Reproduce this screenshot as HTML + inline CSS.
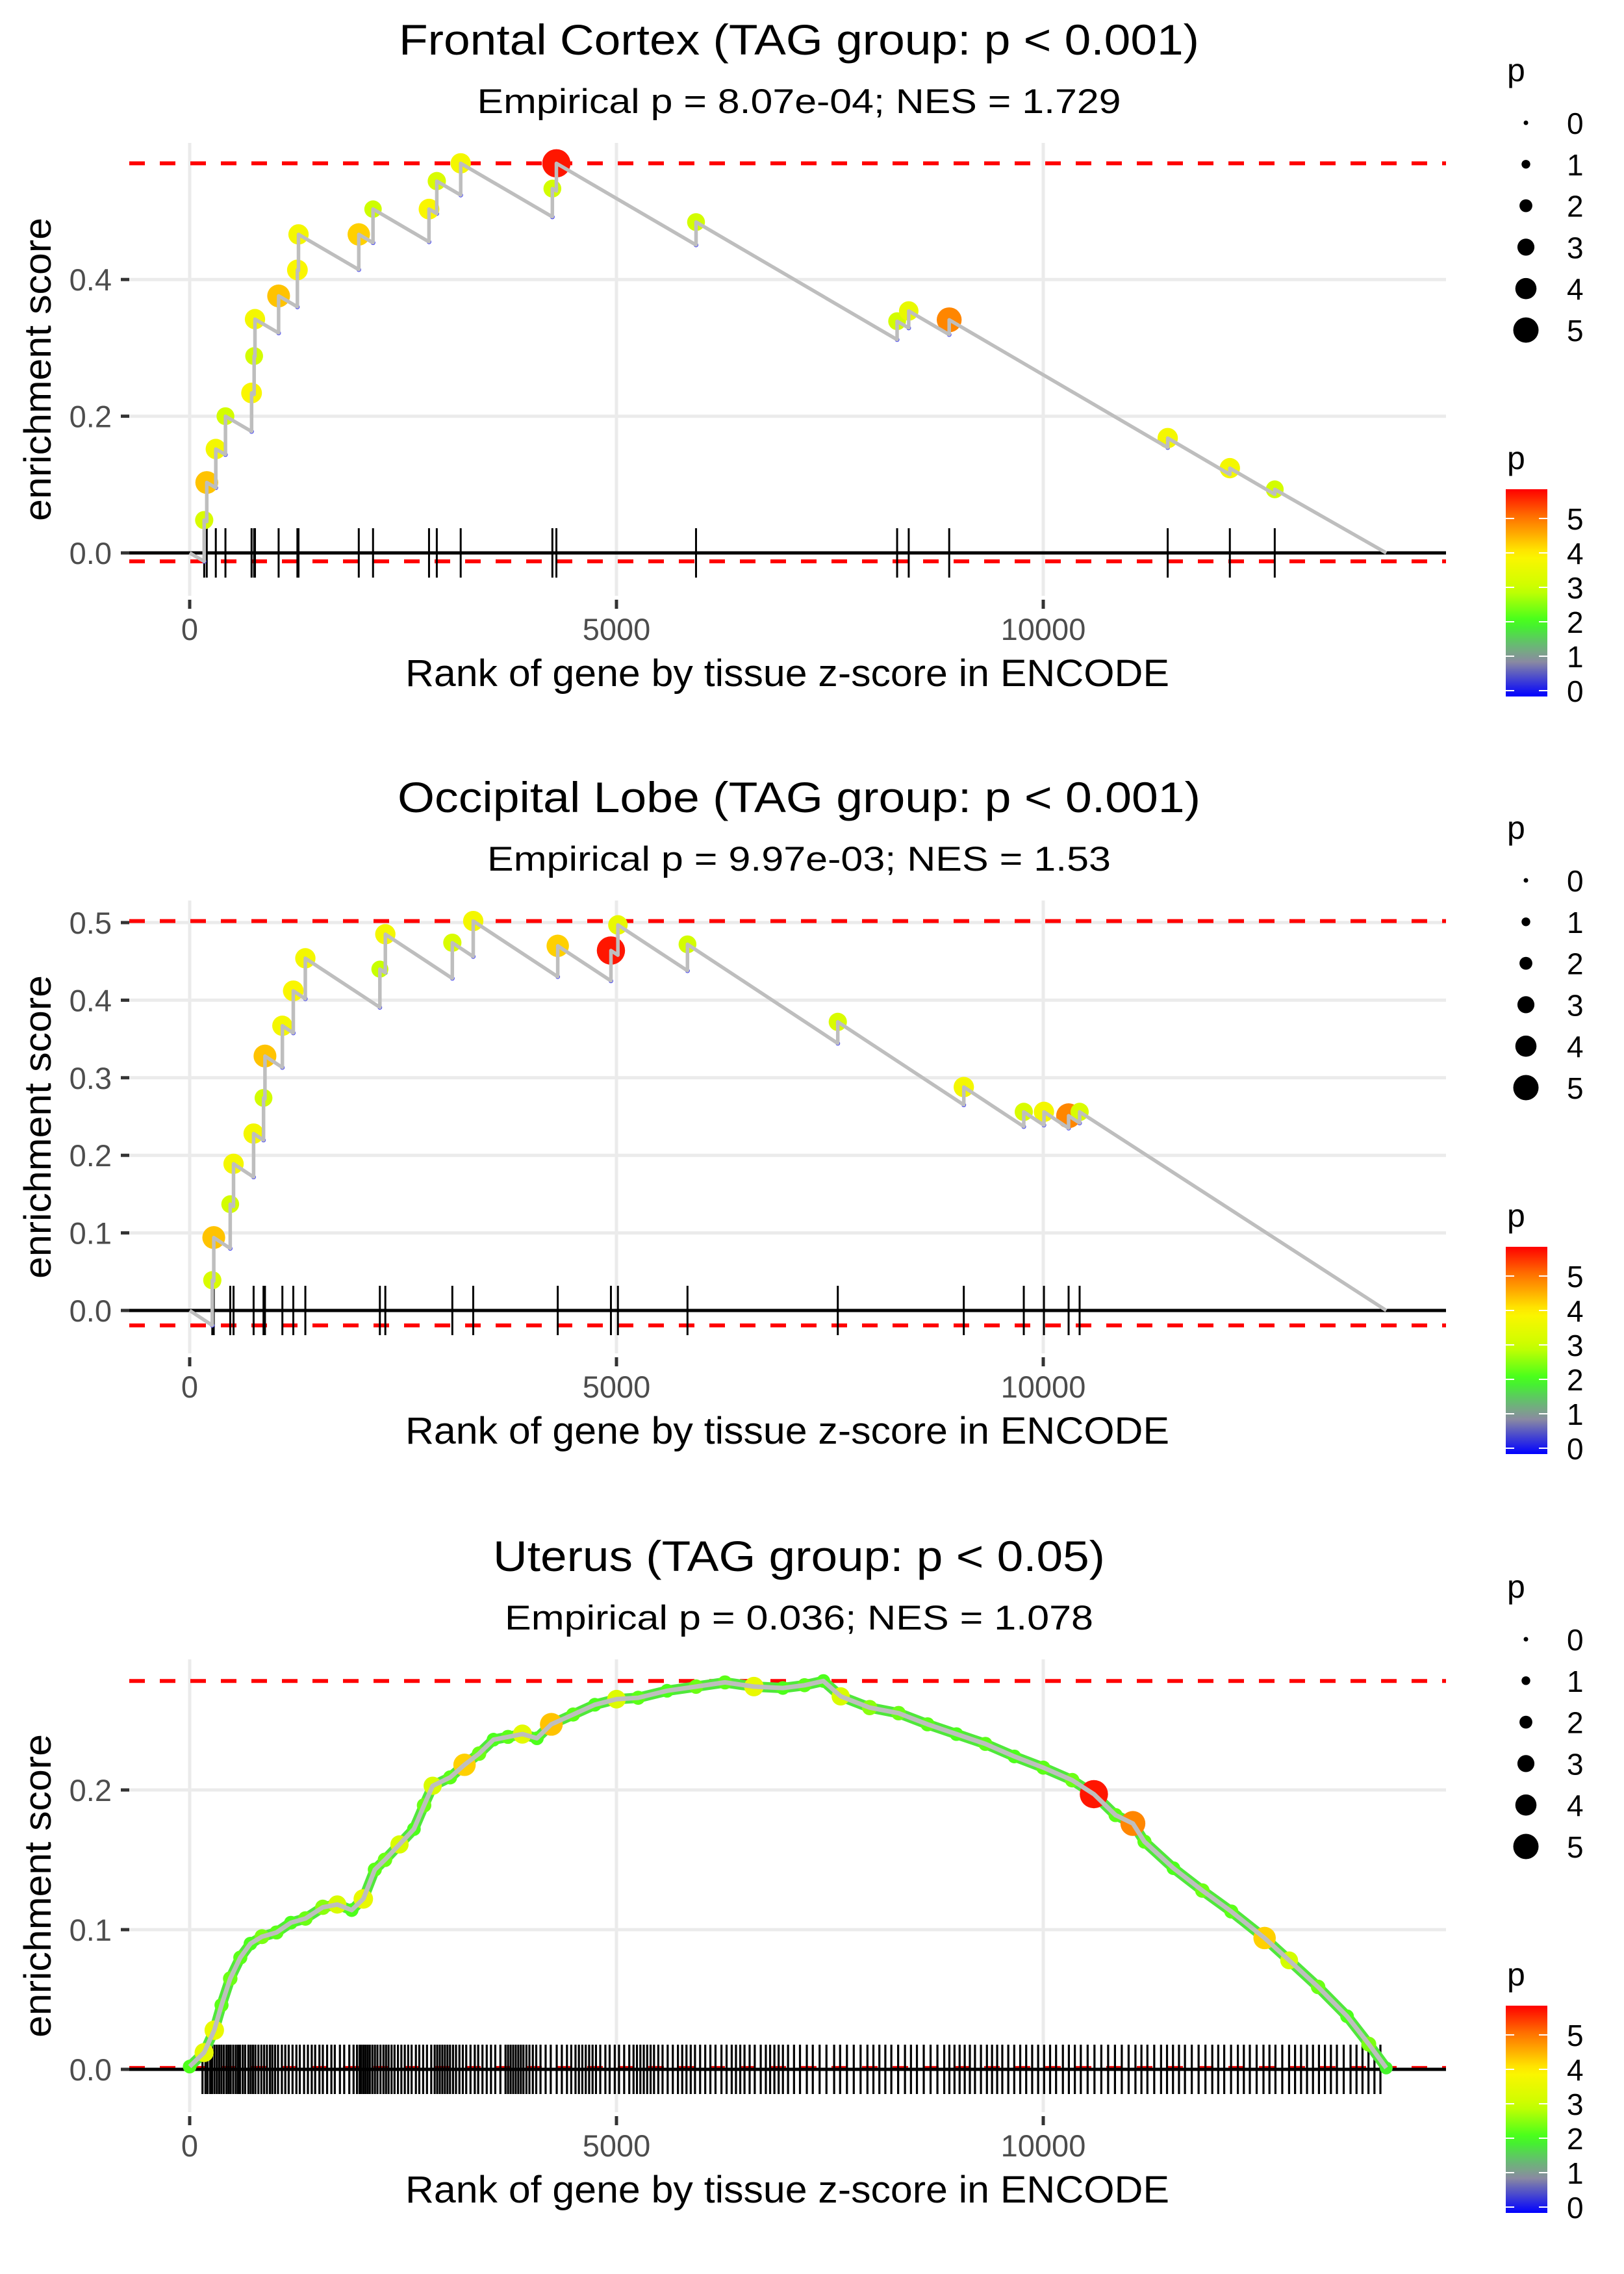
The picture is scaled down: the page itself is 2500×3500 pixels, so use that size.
<!DOCTYPE html>
<html><head><meta charset="utf-8"><title>Enrichment plots</title>
<style>html,body{margin:0;padding:0;background:#fff}svg{display:block}text{font-family:"Liberation Sans",Arial,sans-serif}</style>
</head><body>
<svg id="fig" xmlns="http://www.w3.org/2000/svg" width="2500" height="3500" viewBox="0 0 2500 3500"></svg>
<script>
// ---------- data ----------
const geneCount = 14018;
const xTickValues = [0, 5000, 10000];
const xTickLabels = ["0", "5000", "10000"];
const sizeLegendValues = [0, 1, 2, 3, 4, 5];
const colorLegendValues = [0, 1, 2, 3, 4, 5];

const p1Title = "Frontal Cortex (TAG group: p < 0.001)";
const p1Subtitle = "Empirical p = 8.07e-04; NES = 1.729";
const p1Ranks = [170, 200, 306, 419, 725, 755, 765, 1042, 1262, 1275, 1981, 2148, 2804, 2895, 3175, 4249, 4296, 5932, 8288, 8424, 8898, 11458, 12186, 12712];
const p1ES = [0.048, 0.103, 0.152, 0.200, 0.234, 0.288, 0.342, 0.376, 0.414, 0.466, 0.466, 0.503, 0.503, 0.544, 0.570, 0.533, 0.570, 0.484, 0.339, 0.354, 0.341, 0.168, 0.124, 0.093];
const p1P = [3.3, 4.4, 3.8, 3.2, 3.9, 3.2, 3.8, 4.4, 3.9, 3.8, 4.3, 3.1, 3.9, 3.3, 3.8, 3.2, 5.7, 3.2, 3.2, 3.6, 4.9, 3.8, 3.8, 3.2];
const p1Step = 0.000073;
const p1YTicks = [0, 0.2, 0.4];
const p1YTickLabels = ["0.0", "0.2", "0.4"];

const p2Title = "Occipital Lobe (TAG group: p < 0.001)";
const p2Subtitle = "Empirical p = 9.97e-03; NES = 1.53";
const p2Ranks = [265, 282, 475, 514, 749, 865, 882, 1086, 1214, 1355, 2228, 2292, 3077, 3322, 4312, 4935, 5017, 5832, 7593, 9069, 9772, 10008, 10297, 10426];
const p2ES = [0.039, 0.094, 0.137, 0.189, 0.228, 0.274, 0.328, 0.367, 0.412, 0.454, 0.440, 0.485, 0.474, 0.502, 0.470, 0.464, 0.497, 0.472, 0.372, 0.288, 0.256, 0.256, 0.251, 0.256];
const p2P = [3.3, 4.4, 3.2, 3.8, 3.8, 3.2, 4.4, 3.8, 3.9, 3.8, 3.0, 3.8, 3.3, 3.8, 4.3, 5.7, 3.6, 3.2, 3.3, 3.8, 3.3, 3.8, 4.9, 3.3];
const p2Step = 0.0000725;
const p2YTicks = [0, 0.1, 0.2, 0.3, 0.4, 0.5];
const p2YTickLabels = ["0.0", "0.1", "0.2", "0.3", "0.4", "0.5"];

const p3Title = "Uterus (TAG group: p < 0.05)";
const p3Subtitle = "Empirical p = 0.036; NES = 1.078";
const p3Ranks = [0, 169, 288, 373, 475, 593, 712, 847, 1017, 1186, 1356, 1559, 1729, 1898, 2034, 2169, 2288, 2458, 2627, 2746, 2847, 3051, 3220, 3390, 3559, 3729, 3898, 4068, 4237, 4492, 4746, 5000, 5254, 5593, 5932, 6271, 6610, 6949, 7203, 7424, 7627, 7966, 8305, 8644, 8983, 9322, 9661, 10000, 10339, 10593, 10847, 11050, 11186, 11525, 11864, 12203, 12593, 12881, 13220, 13559, 13814, 14018];
const p3ES = [0.002, 0.012, 0.028, 0.046, 0.065, 0.080, 0.090, 0.095, 0.098, 0.105, 0.108, 0.116, 0.118, 0.114, 0.122, 0.143, 0.150, 0.161, 0.172, 0.189, 0.203, 0.209, 0.218, 0.226, 0.236, 0.238, 0.240, 0.237, 0.247, 0.254, 0.261, 0.265, 0.266, 0.271, 0.274, 0.277, 0.274, 0.273, 0.275, 0.278, 0.267, 0.259, 0.255, 0.247, 0.240, 0.233, 0.224, 0.216, 0.207, 0.197, 0.182, 0.176, 0.163, 0.144, 0.128, 0.113, 0.094, 0.078, 0.059, 0.038, 0.018, 0.001];
const p3P = [2.2, 3.5, 3.6, 2.3, 2.4, 2.3, 2.2, 2.5, 2.3, 2.2, 2.4, 2.6, 3.3, 2.2, 3.6, 2.3, 2.4, 3.3, 2.2, 2.4, 3.3, 2.3, 4.3, 2.4, 2.2, 2.3, 3.5, 2.2, 4.4, 2.3, 2.2, 3.4, 2.3, 2.2, 2.4, 2.3, 3.6, 2.2, 2.3, 2.2, 3.3, 2.6, 2.4, 2.3, 2.2, 2.3, 2.2, 2.3, 2.4, 5.7, 2.3, 4.9, 2.3, 2.2, 2.4, 2.3, 4.3, 3.2, 2.4, 2.2, 2.5, 2.0];
const p3YTicks = [0, 0.1, 0.2];
const p3YTickLabels = ["0.0", "0.1", "0.2"];
const p3RugRanks = [150,185,210,240,262,290,318,345,372,400,430,455,480,510,540,566,590,622,650,688,715,742,770,805,840,872,905,940,968,1000,1035,1080,1120,1160,1205,1250,1290,1340,1385,1430,1470,1520,1560,1610,1660,1700,1760,1810,1870,1920,1960,1990,2010,2035,2060,2085,2110,2140,2170,2200,2235,2270,2300,2330,2365,2400,2440,2480,2520,2560,2600,2650,2690,2735,2780,2830,2870,2900,2930,2960,2990,3020,3050,3085,3120,3160,3200,3240,3290,3340,3380,3430,3480,3530,3580,3640,3700,3730,3760,3790,3820,3850,3880,3910,3945,3980,4020,4060,4110,4170,4230,4300,4360,4420,4470,4520,4560,4600,4640,4680,4720,4760,4810,4870,4920,4980,5030,5090,5150,5200,5240,5280,5320,5360,5400,5440,5490,5540,5600,5660,5720,5770,5820,5870,5920,5980,6040,6100,6160,6230,6290,6350,6400,6450,6500,6560,6620,6690,6750,6800,6850,6900,6950,7010,7080,7150,7230,7300,7380,7460,7550,7620,7700,7780,7860,7940,8010,8080,8150,8220,8300,8380,8450,8520,8600,8680,8760,8840,8900,8960,9020,9080,9140,9200,9270,9340,9400,9460,9520,9590,9660,9730,9800,9870,9940,10010,10080,10150,10230,10300,10370,10440,10520,10600,10680,10760,10840,10920,11000,11080,11150,11220,11300,11380,11450,11520,11590,11660,11740,11820,11900,11980,12050,12120,12200,12280,12350,12420,12500,12580,12650,12720,12800,12880,12950,13020,13090,13160,13230,13300,13370,13440,13520,13600,13670,13740,13810,13880,13950];

// ---------- helpers ----------
const NS = "http://www.w3.org/2000/svg";
const svg = document.getElementById("fig");
function mk(tag, attrs, parent) {
  const e = document.createElementNS(NS, tag);
  for (const k in attrs) e.setAttribute(k, attrs[k]);
  (parent || svg).appendChild(e);
  return e;
}
const colorStops = [[0, [0, 0, 255]], [1, [140, 140, 160]], [1.5, [100, 190, 110]], [2.1, [60, 255, 30]], [3, [200, 255, 0]], [4, [255, 245, 0]], [4.6, [255, 170, 0]], [5.1, [255, 110, 0]], [5.85, [255, 0, 0]]];
function pColor(p) {
  if (p <= colorStops[0][0]) return "rgb(0,0,255)";
  for (let i = 1; i < colorStops.length; i++) {
    if (p <= colorStops[i][0]) {
      const a = colorStops[i - 1], b = colorStops[i], t = (p - a[0]) / (b[0] - a[0]);
      const c = a[1].map((v, j) => Math.round(v + (b[1][j] - v) * t));
      return "rgb(" + c.join(",") + ")";
    }
  }
  return "rgb(255,0,0)";
}
function pRadius(p) { return 3.5 + 3.2 * p; }

const X0 = 292, XPER = 0.1314, PL = 199, PR = 2226;
function xs(r) { return X0 + r * XPER; }

function panel(cfg) {
  const g = mk("g", {});
  
  
  const z = cfg.zero, u = cfg.unit;
  const ys = v => z - v * u;
  const top = z - 631, bottom = z + 66;
  cfg.yTicks.forEach((v, i) => {
    const l = mk("line", { x1: PL, x2: PR, y1: ys(v), y2: ys(v), stroke: "#ebebeb", "stroke-width": 5 }, g);
    
    
  });
  xTickValues.forEach(v => {
    const l = mk("line", { x1: xs(v), x2: xs(v), y1: top, y2: bottom, stroke: "#ebebeb", "stroke-width": 5 }, g);
    
    
  });
  let vals = cfg.lineES;
  const mx = Math.max(...vals), mn = Math.min(...vals);
  [mx, mn].forEach((v, i) => {
    const l = mk("line", { x1: PL, x2: PR, y1: ys(v), y2: ys(v), stroke: "#ff0000", "stroke-width": 6, "stroke-dasharray": "24 23" }, g);
    
    
  });
  const zl = mk("line", { x1: PL, x2: PR, y1: z, y2: z, stroke: "#000", "stroke-width": 5 }, g);
  
  
  const rg = mk("g", {}, g);
  
  
  cfg.rug.forEach(r => {
    const l = mk("line", { x1: xs(r), x2: xs(r), y1: z - cfg.rugH, y2: z + cfg.rugH, stroke: "#000", "stroke-width": cfg.rugW }, rg);
    
    
  });
  const d = cfg.lineR.map((r, i) => (i ? "L" : "M") + xs(r).toFixed(1) + "," + ys(cfg.lineES[i]).toFixed(1)).join(" ");
  if (cfg.halo) {
    const h = mk("path", { d: d, fill: "none", stroke: "#4fe83a", "stroke-width": 16, "stroke-linejoin": "round", "stroke-linecap": "round" }, g);
    
    
  }
  (cfg.preR || []).forEach((r, i) => {
    const c = mk("circle", { cx: xs(r), cy: ys(cfg.preES[i]), r: 3.5, fill: "#2a2aff" }, g);
    
    
  });
  cfg.ranks.forEach((r, i) => {
    const c = mk("circle", { cx: xs(r), cy: ys(cfg.es[i]), r: pRadius(cfg.p[i]), fill: pColor(cfg.p[i]) }, g);
    
    
  });
  const ln = mk("path", { d: d, fill: "none", stroke: "#bebebe", "stroke-width": cfg.halo ? 7 : 5.5, "stroke-linejoin": "round" }, g);
  
  
  cfg.yTicks.forEach((v, i) => {
    const t = mk("line", { x1: 186, x2: 199, y1: ys(v), y2: ys(v), stroke: "#333", "stroke-width": 5 }, g);
    
    
    const tx = mk("text", { x: 172, y: ys(v) + 17, "text-anchor": "end", "font-size": 47, fill: "#4d4d4d" }, g);
    tx.textContent = cfg.yTickLabels[i];
    
    
  });
  xTickValues.forEach((v, i) => {
    const t = mk("line", { x1: xs(v), x2: xs(v), y1: z + 72, y2: z + 86, stroke: "#333", "stroke-width": 5 }, g);
    
    
    const tx = mk("text", { x: xs(v), y: z + 134, "text-anchor": "middle", "font-size": 47, fill: "#4d4d4d" }, g);
    tx.textContent = xTickLabels[i];
    
    
  });
  const ti = mk("text", { x: 1230, y: z - 767, "text-anchor": "middle", "font-size": 66, fill: "#000", textLength: cfg.titleW, lengthAdjust: "spacingAndGlyphs" }, g);
  ti.textContent = cfg.title;
  
  
  const st = mk("text", { x: 1230, y: z - 677, "text-anchor": "middle", "font-size": 53, fill: "#000", textLength: cfg.subW, lengthAdjust: "spacingAndGlyphs" }, g);
  st.textContent = cfg.subtitle;
  
  
  const xt = mk("text", { x: 1212, y: z + 205, "text-anchor": "middle", "font-size": 58, fill: "#000", textLength: 1176, lengthAdjust: "spacingAndGlyphs" }, g);
  xt.textContent = "Rank of gene by tissue z-score in ENCODE";
  
  
  const yc = (top + bottom) / 2;
  const yt = mk("text", { x: 0, y: 0, transform: "translate(78," + yc + ") rotate(-90)", "text-anchor": "middle", "font-size": 58, fill: "#000", textLength: 467, lengthAdjust: "spacingAndGlyphs" }, g);
  yt.textContent = "enrichment score";
  
  
  const L = z - 851;
  const sl = mk("g", {}, g);
  
  
  const slt = mk("text", { x: 2320, y: L + 125, "font-size": 50, fill: "#000" }, sl);
  slt.textContent = "p";
  
  
  sizeLegendValues.forEach((v, i) => {
    const cy = L + 189 + i * 63.8;
    const c = mk("circle", { cx: 2349, cy: cy, r: pRadius(v), fill: "#000" }, sl);
    
    
    const t = mk("text", { x: 2412, y: cy + 17, "font-size": 46, fill: "#000" }, sl);
    t.textContent = String(v);
    
    
  });
  const cl = mk("g", {}, g);
  
  
  const clt = mk("text", { x: 2320, y: L + 722, "font-size": 50, fill: "#000" }, cl);
  clt.textContent = "p";
  
  
  const barTop = L + 753, barBot = L + 1072, vMax = 5.85;
  const gid = "grad" + cfg.idx;
  const defs = mk("defs", {}, cl);
  const lg = mk("linearGradient", { id: gid, x1: 0, y1: 1, x2: 0, y2: 0 }, defs);
  for (let k = 0; k <= 24; k++) {
    const v = vMax * k / 24;
    mk("stop", { offset: (k / 24).toFixed(4), "stop-color": pColor(v) }, lg);
  }
  const bar = mk("rect", { x: 2318, y: barTop, width: 64, height: barBot - barTop, fill: "url(#" + gid + ")" }, cl);
  
  
  colorLegendValues.forEach(v => {
    const y = barBot - 9 - v * 53;
    mk("line", { x1: 2318, x2: 2331, y1: y, y2: y, stroke: "#fff", "stroke-width": 2 }, cl);
    mk("line", { x1: 2369, x2: 2382, y1: y, y2: y, stroke: "#fff", "stroke-width": 2 }, cl);
    const t = mk("text", { x: 2412, y: y + 17, "font-size": 46, fill: "#000" }, cl);
    t.textContent = String(v);
    
    
  });
}

function stepCurve(ranks, es, step) {
  const lineR = [0], lineES = [0], preR = [], preES = [];
  let pr = 0, pv = 0;
  ranks.forEach((r, i) => {
    const pre = pv - step * (r - pr);
    lineR.push(r, r); lineES.push(pre, es[i]);
    preR.push(r); preES.push(pre);
    pr = r; pv = es[i];
  });
  lineR.push(geneCount); lineES.push(0);
  return { lineR, lineES, preR, preES };
}

const c1 = stepCurve(p1Ranks, p1ES, p1Step);
panel({ idx: 1, name: "frontal-cortex-panel", zero: 851, unit: 1052, yTicks: p1YTicks, yTickLabels: p1YTickLabels,
  ranks: p1Ranks, es: p1ES, p: p1P, lineR: c1.lineR, lineES: c1.lineES, preR: c1.preR, preES: c1.preES,
  rug: p1Ranks, rugH: 38, rugW: 3, title: p1Title, subtitle: p1Subtitle, titleW: 1232, subW: 991 });

const c2 = stepCurve(p2Ranks, p2ES, p2Step);
panel({ idx: 2, name: "occipital-lobe-panel", zero: 2017, unit: 1194, yTicks: p2YTicks, yTickLabels: p2YTickLabels,
  ranks: p2Ranks, es: p2ES, p: p2P, lineR: c2.lineR, lineES: c2.lineES, preR: c2.preR, preES: c2.preES,
  rug: p2Ranks, rugH: 38, rugW: 3, title: p2Title, subtitle: p2Subtitle, titleW: 1236, subW: 960 });

panel({ idx: 3, name: "uterus-panel", zero: 3185, unit: 2150, yTicks: p3YTicks, yTickLabels: p3YTickLabels,
  ranks: p3Ranks, es: p3ES, p: p3P, lineR: p3Ranks, lineES: p3ES, halo: true,
  rug: p3RugRanks, rugH: 38, rugW: 3.2, title: p3Title, subtitle: p3Subtitle, titleW: 942, subW: 906 });
</script>
</body></html>
